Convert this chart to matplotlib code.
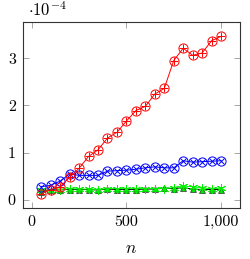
import matplotlib
matplotlib.use("Agg")
import matplotlib.pyplot as plt
from matplotlib.ticker import FuncFormatter

plt.rcParams['font.family'] = 'serif'
plt.rcParams['font.serif'] = ['cmr10', 'DejaVu Serif']
plt.rcParams['mathtext.fontset'] = 'cm'
plt.rcParams['axes.formatter.use_mathtext'] = True

n = [50, 100, 150, 200, 250, 300, 350, 400, 450, 500,
     550, 600, 650, 700, 750, 800, 850, 900, 950, 1000]
red = [0.13, 0.22, 0.28, 0.48, 0.67, 0.92, 1.06, 1.31, 1.43, 1.67,
       1.89, 1.98, 2.24, 2.36, 2.95, 3.21, 3.06, 3.11, 3.37, 3.46]
blue = [0.28, 0.31, 0.40, 0.55, 0.52, 0.52, 0.52, 0.61, 0.62, 0.63,
        0.65, 0.68, 0.70, 0.68, 0.68, 0.83, 0.80, 0.81, 0.82, 0.83]
black = [0.17, 0.21, 0.22, 0.22, 0.22, 0.22, 0.21, 0.23, 0.22, 0.22,
         0.22, 0.23, 0.23, 0.25, 0.24, 0.26, 0.23, 0.22, 0.22, 0.22]
green = [0.22, 0.18, 0.22, 0.24, 0.23, 0.23, 0.22, 0.24, 0.24, 0.24,
         0.24, 0.24, 0.24, 0.24, 0.26, 0.29, 0.28, 0.25, 0.24, 0.25]
xticks = [0, 500, 1000]
yticks = [0, 1, 2, 3]

fig = plt.figure(figsize=(2.5, 2.59), dpi=100)
ax = fig.add_axes([0.091, 0.196, 0.869, 0.72])

ms = 6.6
lw = 0.7
ax.plot(n, black, color='black', lw=lw, marker='^', ms=4.8, mfc='#00dd00', mec='#333333', mew=0.5, zorder=3)
ax.plot(n, green, color='#00ff00', lw=lw, marker=(6, 2, 0), ms=6.5, mec='#00ee00', mew=0.7, zorder=4)
ax.plot(n, blue, color='blue', lw=lw, marker='o', ms=ms, mfc='none', mec='blue', mew=0.7, zorder=5)
ax.plot(n, blue, ls='none', marker='x', ms=ms*0.68, mec='blue', mew=0.7, zorder=5)
ax.plot(n, red, color='red', lw=lw, marker='o', ms=ms, mfc='none', mec='red', mew=0.7, zorder=6)
ax.plot(n, red, ls='none', marker='+', ms=ms*0.95, mec='red', mew=0.7, zorder=6)

ax.set_xlim(-47.5, 1100)
ax.set_ylim(-0.175, 3.77)
ax.set_xticks(xticks)
ax.set_yticks(yticks)
ax.xaxis.set_major_formatter(FuncFormatter(lambda v, p: f"{int(v):,}"))
ax.yaxis.set_major_formatter(FuncFormatter(lambda v, p: f"{int(v)}"))
ax.tick_params(direction='in', length=4, width=0.6, color='#999999',
               top=True, right=True, labelsize=11.5, pad=5)
for s in ax.spines.values():
    s.set_color('#333333')
    s.set_linewidth(0.8)

ax.set_xlabel('$n$', fontsize=12.5, labelpad=8)
fig.text(0.11, 0.962, r'$\cdot 10^{-4}$', fontsize=12, ha='left', va='center')

fig.savefig('out.png', dpi=100)
